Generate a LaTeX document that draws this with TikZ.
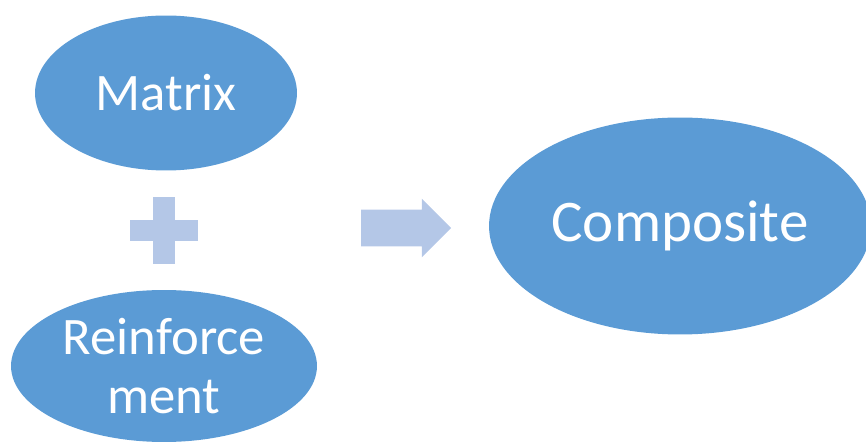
\documentclass[tikz,border=0pt]{standalone}
\usepackage{fontspec}
\setmainfont{Carlito}
\usetikzlibrary{shapes.geometric, shapes.arrows}

\definecolor{blobblue}{HTML}{5B9BD5}
\definecolor{paleblue}{HTML}{B4C7E7}

\begin{document}
\begin{tikzpicture}[x=0.02cm, y=-0.02cm,
component/.style={ellipse, fill=blobblue, text=white, inner sep=0pt,
  align=center, font=\fontsize{30}{33.6}\selectfont},
%
product/.style={ellipse, fill=blobblue, text=white, inner sep=0pt,
  font=\fontsize{33.6}{36}\selectfont},
%
yields/.style={single arrow, fill=paleblue, inner sep=0pt, inner ysep=0.36cm,
  single arrow head extend=0.22cm, minimum height=1.8cm}]

\useasboundingbox (0,0) rectangle (866,442);

%%%%%%%%%%%%%%%%%%%%%%%%%%%%%%
\node [component, minimum width=5.24cm, minimum height=3.1cm] (matrix) at (166,93) {Matrix};
\node [component, minimum width=6.12cm, minimum height=3.04cm] (reinf) at (164,366) {Reinforce\\ment};
\node [product, minimum width=7.64cm, minimum height=4.34cm] (composite) at (680,226) {Composite};
%%%%%%%%%%%%%%%%%%%%%%%%%%%%%%
\fill [paleblue] (130,220) rectangle (198,241);
\fill [paleblue] (153,197) rectangle (175,264);
\node [yields] (arrow) at (397,228) {};

\end{tikzpicture}
\end{document}
